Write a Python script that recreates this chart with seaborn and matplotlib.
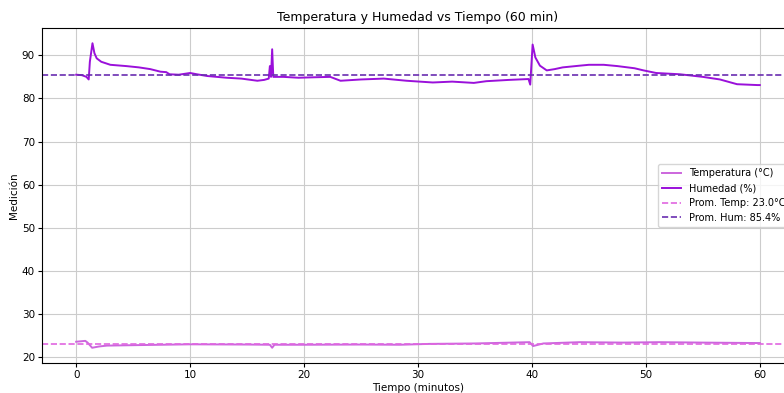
import matplotlib
matplotlib.use("Agg")
import matplotlib.pyplot as plt
import seaborn as sns
import pandas as pd

# ---- data ----
tiempo_hum = [0, 0.5, 0.9, 1.1, 1.2, 1.43, 1.6, 1.8, 2.2, 3.0, 4.4, 5.5, 6.5, 7.4, 7.9, 8.2,
              9.0, 10.0, 10.6, 11.5, 13.2, 14.5, 15.9, 16.5, 16.9, 17.0, 17.1, 17.2, 17.3,
              18.2, 19.5, 20.8, 22.3, 23.2, 25.0, 27.0, 29.0, 31.3, 33.0, 34.9, 36.0, 38.0,
              39.7, 39.85, 40.06, 40.3, 40.7, 41.3, 42.0, 42.7, 44.2, 45.0, 46.3, 47.5, 49.0,
              49.8, 50.9, 53.0, 55.0, 56.5, 58.0, 59.8, 60.0]
humedad = [85.5, 85.4, 85.0, 84.4, 88.5, 92.8, 90.5, 89.3, 88.5, 87.8, 87.5, 87.2, 86.8, 86.2,
           86.1, 85.6, 85.5, 85.9, 85.6, 85.2, 84.8, 84.6, 84.1, 84.3, 84.6, 87.5, 85.0, 91.4,
           85.0, 85.0, 84.8, 84.9, 85.0, 84.1, 84.4, 84.6, 84.1, 83.7, 83.9, 83.6, 84.0, 84.3,
           84.5, 83.2, 92.5, 89.5, 87.6, 86.5, 86.8, 87.2, 87.6, 87.8, 87.8, 87.5, 87.0,
           86.5, 85.9, 85.6, 85.0, 84.4, 83.3, 83.1, 83.1]

tiempo_temp = [0, 0.8, 1.0, 1.4, 2.0, 2.7, 5.0, 10.0, 15.0, 17.0, 17.2, 17.4, 20.0, 25.0,
               28.4, 31.0, 35.0, 39.8, 40.1, 41.0, 44.2, 48.0, 51.2, 55.0, 59.7, 60.0]
temperatura = [23.6, 23.8, 23.4, 22.2, 22.5, 22.7, 22.8, 23.0, 22.95, 22.9, 22.2, 22.9, 22.9,
               22.95, 22.9, 23.1, 23.2, 23.5, 22.6, 23.2, 23.5, 23.4, 23.5, 23.4, 23.3, 23.3]

prom_temp = 23.0
prom_hum = 85.4

df_h = pd.DataFrame({"t": tiempo_hum, "v": humedad})
df_t = pd.DataFrame({"t": tiempo_temp, "v": temperatura})

plt.rcParams["font.family"] = ["DejaVu Sans"]
fig = plt.figure(figsize=(7.84, 3.93), dpi=100)
ax = fig.add_axes([42 / 784, 30 / 393, 752 / 784, 335 / 393])

c_temp = "#CC66DD"
c_hum = "#9A10DA"
c_ptemp = "#E066E0"
c_phum = "#6A2DB0"

sns.lineplot(data=df_t, x="t", y="v", ax=ax, color=c_temp, linewidth=1.4,
             estimator=None, sort=False, label="Temperatura (°C)")
sns.lineplot(data=df_h, x="t", y="v", ax=ax, color=c_hum, linewidth=1.4,
             estimator=None, sort=False, label="Humedad (%)")
ax.axhline(prom_temp, color=c_ptemp, linestyle="--", linewidth=1.2,
           label=f"Prom. Temp: {prom_temp:.1f}°C")
ax.axhline(prom_hum, color=c_phum, linestyle="--", linewidth=1.2,
           label=f"Prom. Hum: {prom_hum:.1f}%")

ax.set_xlim(-3, 63)
ax.set_ylim(18.67, 96.33)
ax.set_xticks([0, 10, 20, 30, 40, 50, 60])
ax.set_yticks([20, 30, 40, 50, 60, 70, 80, 90])
ax.grid(True, color="#cccccc", linewidth=0.8)
ax.tick_params(labelsize=7.5, length=2.6, pad=2.5)
ax.set_title("Temperatura y Humedad vs Tiempo (60 min)", fontsize=9, pad=5)
ax.set_xlabel("Tiempo (minutos)", fontsize=7.5, labelpad=2)
ax.set_ylabel("Medición", fontsize=7.5, labelpad=2)
ax.legend(loc="center right", fontsize=7, frameon=True)

fig.savefig("out.png", dpi=100)
